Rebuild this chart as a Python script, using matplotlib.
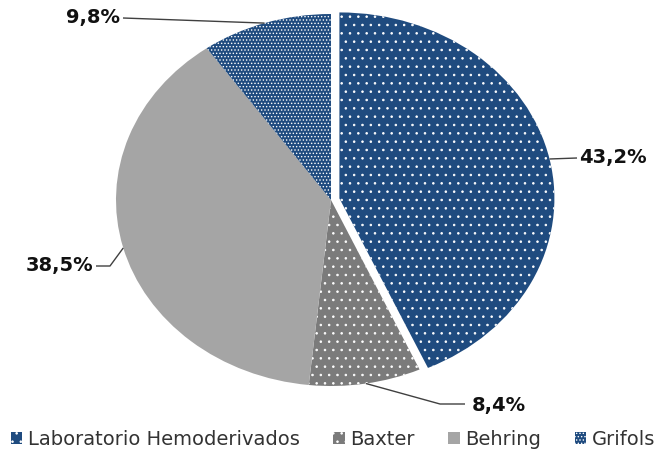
import numpy as np
import matplotlib
matplotlib.use("Agg")
import matplotlib.pyplot as plt

categories = ["Laboratorio Hemoderivados", "Baxter", "Behring", "Grifols"]
values = [43.2, 8.4, 38.5, 9.8]
labels = ["43,2%", "8,4%", "38,5%", "9,8%"]

colors = ["#1f4b7f", "#7b7b7b", "#a5a5a5", "#1f4b7f"]
hatches = ["..", "..", None, "....."]

W, H = 666, 457
fig = plt.figure(figsize=(W / 100, H / 100), dpi=100)
cx, cy = 331, 200      # pie centre in pixels (top origin)
rx, ry = 215, 186      # radii in pixels
ax = fig.add_axes([0, 0, 1, 1])

plt.rcParams["hatch.linewidth"] = 0.6
explode = [0.04, 0, 0, 0]
wedges, _ = ax.pie(values, colors=colors, startangle=90, counterclock=False,
                   explode=explode, radius=1, center=(0, 0), frame=True,
                   wedgeprops=dict(linewidth=0))
ax.set_xlim(-cx / rx, (W - cx) / rx)
ax.set_ylim(-(H - cy) / ry, cy / ry)
ax.set_aspect("auto")
ax.axis("off")
for w, h in zip(wedges, hatches):
    if h:
        w.set_hatch(h)
        w.set_edgecolor("white")
        w.set_linewidth(0)

def px(x, y):
    return ((x - cx) / rx, (cy - y) / ry)

# label text positions (pixels) and elbow points
text_pos = [(613, 158), (499, 406), (60, 266), (93, 18)]
elbow = [None, (440, 404), (110, 266), None]
line_end = [(577, 158), (465, 404), (96, 266), (123, 18)]

ang = 90.0
for i, v in enumerate(values):
    a1 = ang - v * 3.6
    mid = np.deg2rad((ang + a1) / 2)
    ang = a1
    r = 1 + explode[i]
    p0 = (r * np.cos(mid), r * np.sin(mid))
    xs = [p0[0]]
    ys = [p0[1]]
    if elbow[i] is not None:
        e = px(*elbow[i])
        xs.append(e[0]); ys.append(e[1])
    le = px(*line_end[i])
    xs.append(le[0]); ys.append(le[1])
    ax.plot(xs, ys, color="#404040", lw=1.0, solid_capstyle="butt")
    tp = px(*text_pos[i])
    ax.text(tp[0], tp[1], labels[i], ha="center", va="center",
            fontsize=14, fontweight="bold", family="DejaVu Sans", color="#111111")

leg = fig.legend(wedges, categories, loc="lower center", ncol=4,
                 bbox_to_anchor=(0.5, -0.02), frameon=False,
                 handlelength=0.6, handleheight=0.6, handletextpad=0.3,
                 columnspacing=1.7, prop={"family": "DejaVu Sans", "size": 14})
for t in leg.get_texts():
    t.set_color("#333333")

fig.savefig("out.png", dpi=100)
